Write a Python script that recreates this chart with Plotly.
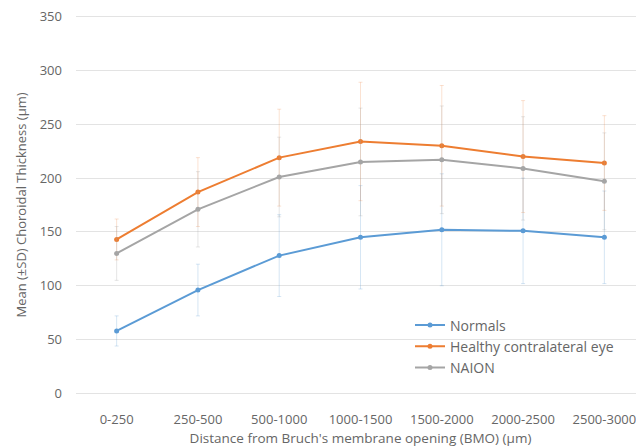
import plotly.graph_objects as go

categories = ["0-250", "250-500", "500-1000", "1000-1500", "1500-2000", "2000-2500", "2500-3000"]
normals = [58, 96, 128, 145, 152, 151, 145]
normals_sd = [14, 24, 38, 48, 52, 49, 43]
healthy = [143, 187, 219, 234, 230, 220, 214]
healthy_sd = [19, 32, 45, 55, 56, 52, 44]
naion = [130, 171, 201, 215, 217, 209, 197]
naion_sd = [25, 35, 37, 50, 50, 48, 45]
yticks = [0, 50, 100, 150, 200, 250, 300, 350]

FONT = "Open Sans"
TXT = "#666666"

series = [
    ("Normals", normals, normals_sd, "#5B9BD5", "rgba(91,155,213,0.25)"),
    ("Healthy contralateral eye", healthy, healthy_sd, "#ED7D31", "rgba(237,125,49,0.22)"),
    ("NAION", naion, naion_sd, "#A5A5A5", "rgba(165,165,165,0.28)"),
]

fig = go.Figure()
for name, vals, sd, col, ecol in series:
    fig.add_trace(go.Scatter(
        x=categories, y=vals, name=name, mode="lines+markers",
        line=dict(color=col, width=2),
        marker=dict(color=col, size=5),
        error_y=dict(type="data", array=sd, visible=True, color=ecol, thickness=1, width=2),
    ))

# page body adds an 8px offset; the figure is sized so the plot area lands where the original is
fig.update_layout(
    width=637, height=440,
    margin=dict(l=68, r=0, t=7, b=53, autoexpand=False),
    paper_bgcolor="white", plot_bgcolor="white",
    font=dict(family=FONT, size=13, color=TXT),
    showlegend=True,
    legend=dict(x=0.587, y=0.225, xanchor="left", yanchor="top",
                bgcolor="rgba(0,0,0,0)", font=dict(size=14, color=TXT),
                tracegroupgap=0),
)
fig.update_xaxes(
    type="category", range=[-0.5, 6.5], showgrid=False, zeroline=False,
    showline=False, ticks="", ticklabelstandoff=15, automargin=False,
    tickfont=dict(size=13, color=TXT),
    title=dict(text="Distance from Bruch's membrane opening (BMO) (µm)",
               font=dict(size=13.5, color=TXT), standoff=6),
)
fig.update_yaxes(
    range=[-1.5, 351.5], tickvals=yticks, showgrid=True, gridcolor="#E3E3E3", gridwidth=1,
    zeroline=False, showline=False, ticks="", ticklabelstandoff=13, automargin=False,
    ticklabeloverflow="allow",
    tickfont=dict(size=13, color=TXT),
    title=dict(text="Mean (±SD) Choroidal Thickness (µm)",
               font=dict(size=13, color=TXT), standoff=10),
)

fig.write_html("out.html")
